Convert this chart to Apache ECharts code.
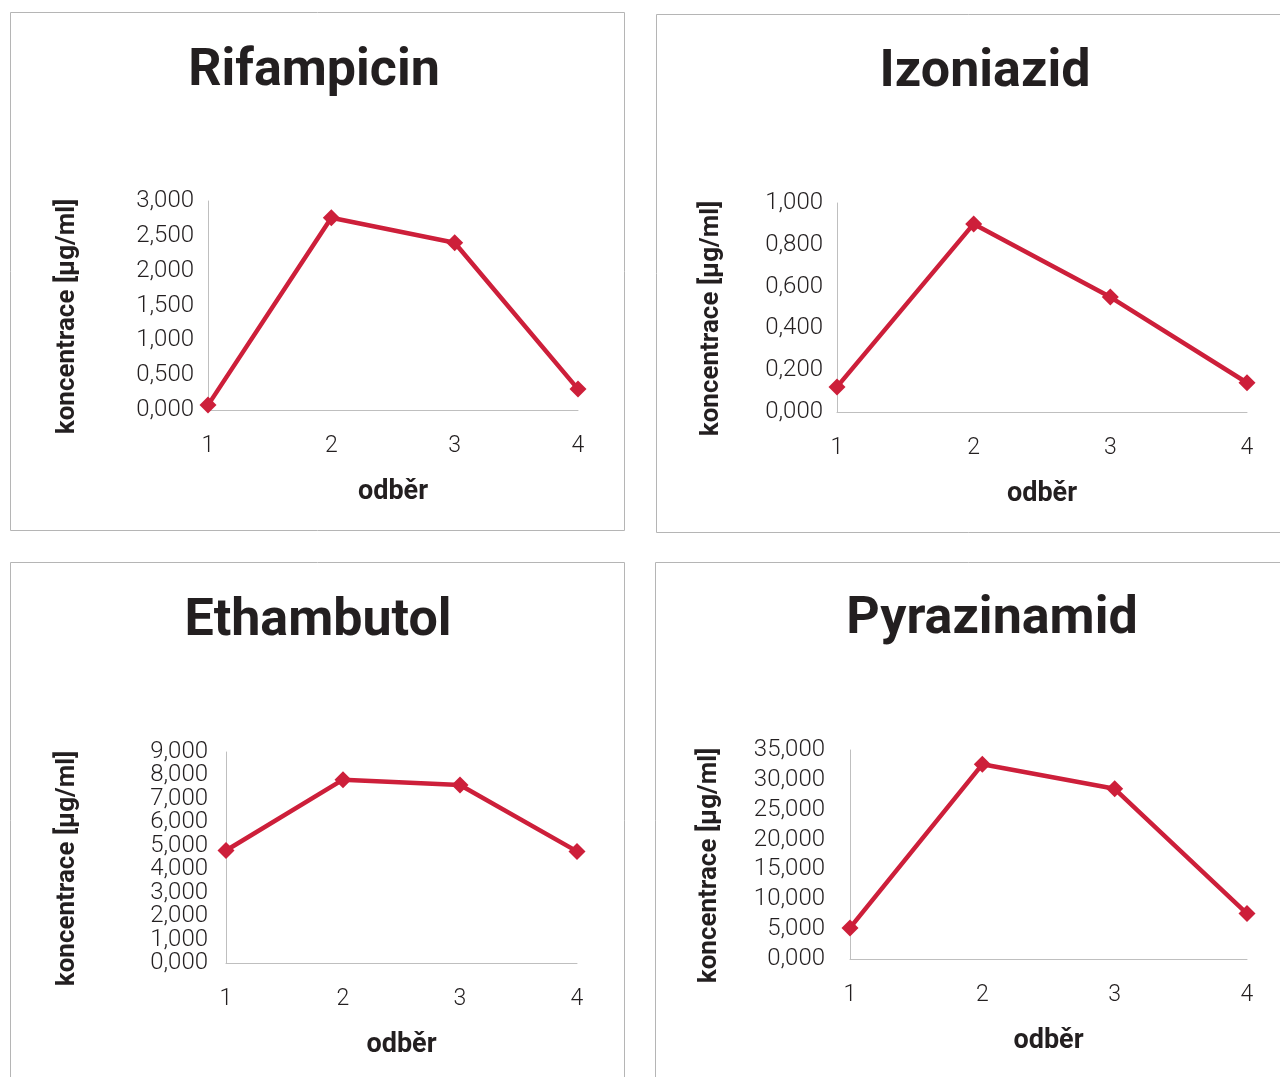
<!DOCTYPE html>
<html>
<head>
<meta charset="utf-8">
<script src="https://cdn.jsdelivr.net/npm/echarts@6/dist/echarts.min.js"></script>
<style>
  html, body { margin: 0; padding: 0; background: #ffffff; }
  #chart { width: 1280px; height: 1077px; }
</style>
</head>
<body>
<div id="chart"></div>
<script>
// Sampling points (odběr) and measured concentrations in µg/ml
const categories = ['1', '2', '3', '4'];
const drugNames = ['Rifampicin', 'Izoniazid', 'Ethambutol', 'Pyrazinamid'];
const rifampicin = [0.07, 2.76, 2.40, 0.30];
const izoniazid = [0.12, 0.90, 0.55, 0.14];
const ethambutol = [4.80, 7.82, 7.59, 4.76];
const pyrazinamid = [5.2, 32.6, 28.5, 7.6];
const yMax = [3, 1, 9, 35];
const yStep = [0.5, 0.2, 1, 5];

const seriesData = [rifampicin, izoniazid, ethambutol, pyrazinamid];

// Panel geometry: frame box, plot box, title centre, label margin, y-name gap.
// denseTicks: the tick labels sit so close that the end labels go on a companion axis.
const panels = [
  { frame: [10.5, 12.5, 614, 518], grid: [208, 201, 370, 209], title: [314, 72], labelMargin: 14, nameGap: 128 },
  { frame: [656.5, 14.5, 640, 518], grid: [837, 203, 410, 209], title: [985, 73], labelMargin: 14, nameGap: 113 },
  { frame: [10.5, 562.5, 614, 530], grid: [226, 752, 351, 211], title: [318, 622], labelMargin: 18, nameGap: 146, denseTicks: true },
  { frame: [655.5, 562.5, 640, 530], grid: [850, 750, 397, 209], title: [992, 620], labelMargin: 25, nameGap: 128 }
];

const textColor = '#231f20';
const lineColor = '#cd1f3a';
const axisColor = '#bfbfbf';
const fontFamily = 'Roboto, "Open Sans", sans-serif';

const fmt = v => v.toFixed(3).replace('.', ',');

const grids = [], xAxes = [], yAxes = [], extraYAxes = [], series = [], graphics = [];

const tickLabelStyle = { color: textColor, fontFamily, fontSize: 24, fontWeight: 300 };

panels.forEach((p, i) => {
  graphics.push({
    type: 'rect',
    shape: { x: p.frame[0], y: p.frame[1], width: p.frame[2], height: p.frame[3] },
    style: { fill: 'none', stroke: '#b5b5b5', lineWidth: 1 },
    silent: true
  });
  graphics.push({
    type: 'text',
    x: p.title[0],
    y: p.title[1],
    style: {
      text: drugNames[i],
      fill: textColor,
      font: 'bold 52px ' + fontFamily,
      textAlign: 'center',
      textVerticalAlign: 'middle'
    },
    silent: true
  });

  grids.push({
    left: p.grid[0], top: p.grid[1], width: p.grid[2], height: p.grid[3],
    containLabel: false
  });

  xAxes.push({
    type: 'category',
    gridIndex: i,
    data: categories,
    boundaryGap: false,
    name: 'odběr',
    nameLocation: 'middle',
    nameGap: 69,
    nameTextStyle: { color: textColor, fontFamily, fontSize: 27, fontWeight: 'bold' },
    axisLine: { show: true, lineStyle: { color: axisColor, width: 1 } },
    axisTick: { show: false },
    axisLabel: { color: textColor, fontFamily, fontSize: 23, fontWeight: 300, margin: 25 },
    splitLine: { show: false }
  });

  yAxes.push({
    type: 'value',
    gridIndex: i,
    min: 0,
    max: yMax[i],
    interval: yStep[i],
    name: 'koncentrace [µg/ml]',
    nameLocation: 'middle',
    nameGap: p.nameGap,
    nameRotate: 90,
    nameTextStyle: {
      color: textColor, fontFamily, fontSize: 26, fontWeight: 'bold',
      padding: [0, 22, 0, 0]
    },
    axisLine: { show: true, lineStyle: { color: axisColor, width: 1 } },
    axisTick: { show: false },
    axisLabel: Object.assign({}, tickLabelStyle, {
      margin: p.labelMargin,
      formatter: fmt,
      showMinLabel: p.denseTicks ? false : true,
      showMaxLabel: p.denseTicks ? false : true
    }),
    splitLine: { show: false }
  });

  if (p.denseTicks) {
    // Companion axis on the same scale carrying only the end labels
    extraYAxes.push({
      type: 'value',
      gridIndex: i,
      position: 'left',
      offset: 0,
      min: 0,
      max: yMax[i],
      interval: yStep[i],
      axisLine: { show: false },
      axisTick: { show: false },
      splitLine: { show: false },
      axisLabel: Object.assign({}, tickLabelStyle, {
        margin: p.labelMargin,
        formatter: v => (v === 0 || v === yMax[i]) ? fmt(v) : '',
        showMinLabel: true,
        showMaxLabel: true
      })
    });
  }

  series.push({
    type: 'line',
    xAxisIndex: i,
    yAxisIndex: i,
    data: seriesData[i],
    symbol: 'diamond',
    symbolSize: 17,
    lineStyle: { color: lineColor, width: 4.5 },
    itemStyle: { color: lineColor },
    animation: false
  });
});

const chart = echarts.init(document.getElementById('chart'), null, { renderer: 'canvas' });
chart.setOption({
  backgroundColor: '#ffffff',
  animation: false,
  grid: grids,
  xAxis: xAxes,
  yAxis: yAxes.concat(extraYAxes),
  series: series,
  graphic: graphics
});
</script>
</body>
</html>
